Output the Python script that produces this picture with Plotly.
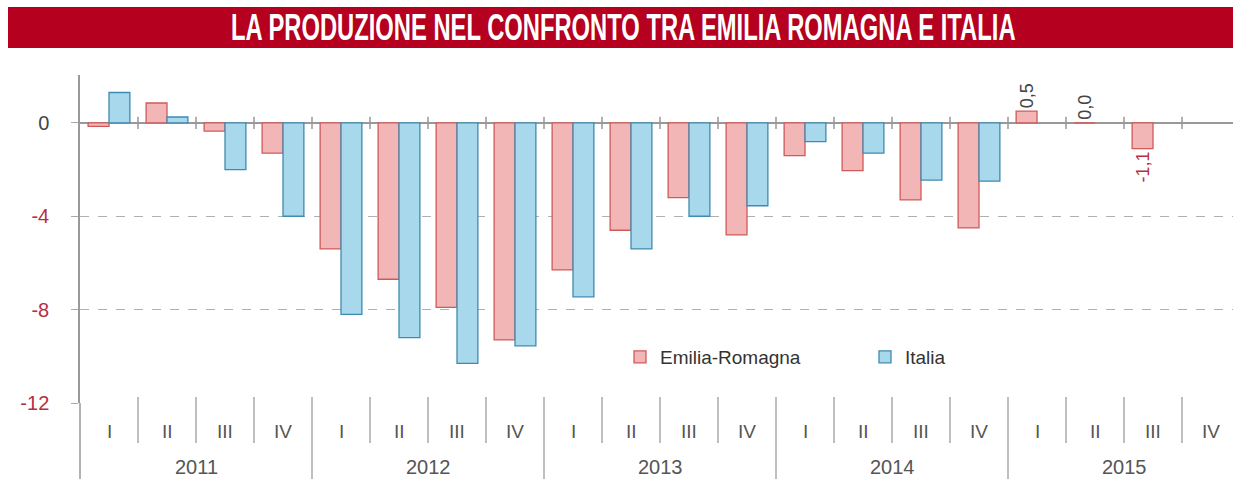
import plotly.graph_objects as go

quarters = ["I", "II", "III", "IV"] * 5
years = ["2011", "2012", "2013", "2014", "2015"]
emilia = [-0.15, 0.85, -0.35, -1.3, -5.4, -6.7, -7.9, -9.3, -6.3, -4.6, -3.2, -4.8,
          -1.4, -2.05, -3.3, -4.5, 0.5, 0.0, -1.1, None]
italia = [1.3, 0.25, -2.0, -4.0, -8.2, -9.2, -10.3, -9.55, -7.45, -5.4, -4.0, -3.55,
          -0.8, -1.3, -2.45, -2.5, None, None, None, None]
emilia_labels = [""] * 16 + ["0,5", "0,0", "-1,1", ""]
y_ticks = [0, -4, -8, -12]
y_tick_text = ["0", "-4", "-8", "-12"]

W, H = 1233, 479
L, T, B = 80, 75, 76
plot_w = W - L
plot_h = H - T - B
cat_px = 58.0

x = list(range(len(quarters)))
label_colors = ["#444444" if (v is not None and v >= 0) else "#b5303f" for v in emilia]

FONT = "Liberation Sans, Arial, sans-serif"

fig = go.Figure()
fig.add_trace(go.Bar(
    x=x, y=emilia, name="Emilia-Romagna",
    marker=dict(color="#f2b6b6", line=dict(color="#d05a5a", width=1.3)),
    text=emilia_labels, textposition="outside", textangle=-90, constraintext="none",
    textfont=dict(family=FONT, size=18, color=label_colors),
    cliponaxis=False,
))
fig.add_trace(go.Bar(
    x=x, y=italia, name="Italia",
    marker=dict(color="#a8d8ec", line=dict(color="#3f8bb0", width=1.3)),
))

shapes = []
# banner
shapes.append(dict(type="rect", xref="paper", yref="paper",
                   x0=(8 - L) / plot_w, x1=1.0,
                   y0=(H - B - 48) / plot_h, y1=(H - B - 7) / plot_h,
                   fillcolor="#b5001f", line=dict(width=0), layer="below"))
# y axis extension below plot
shapes.append(dict(type="line", xref="paper", yref="paper", x0=0, x1=0,
                   y0=(H - B - H) / plot_h, y1=0, line=dict(color="#999999", width=1.5)))
year_bounds = [3.5, 7.5, 11.5, 15.5]
for k in range(len(quarters) - 1):
    b = k + 0.5
    shapes.append(dict(type="line", xref="x", yref="y", x0=b, x1=b, y0=-0.26, y1=0.26,
                       line=dict(color="#999999", width=1.5)))
    if b in year_bounds:
        y0 = (H - B - H) / plot_h
    else:
        y0 = (403 - 443) / plot_h
    shapes.append(dict(type="line", xref="x", yref="paper", x0=b, x1=b,
                       y0=y0, y1=(403 - 397) / plot_h,
                       line=dict(color="#aaaaaa", width=1.5)))

annotations = []
annotations.append(dict(text="<b>LA PRODUZIONE NEL CONFRONTO TRA EMILIA ROMAGNA E ITALIA</b>",
                        xref="paper", yref="paper",
                        x=(623.5 - L) / plot_w, y=(H - B - 28) / plot_h,
                        showarrow=False, xanchor="center", yanchor="middle",
                        font=dict(family="Liberation Sans, Arial", size=36, color="white")))
for i, q in enumerate(quarters):
    annotations.append(dict(text=q, xref="x", yref="paper", x=i, y=(403 - 431) / plot_h,
                            showarrow=False, xanchor="center", yanchor="middle",
                            font=dict(family=FONT, size=19, color="#555555")))
for j, yr in enumerate(years):
    annotations.append(dict(text=yr, xref="x", yref="paper", x=j * 4 + 1.5,
                            y=(403 - 467) / plot_h,
                            showarrow=False, xanchor="center", yanchor="middle",
                            font=dict(family=FONT, size=20, color="#555555")))

tick_text = []
for v, t in zip(y_ticks, y_tick_text):
    c = "#444444" if v == 0 else "#b5303f"
    tick_text.append(f"<span style='color:{c}'>{t}</span>")

fig.update_layout(
    width=W, height=H,
    margin=dict(l=L, r=0, t=T, b=B, pad=0),
    paper_bgcolor="white", plot_bgcolor="white",
    barmode="group", bargap=0.28, bargroupgap=0,
    font=dict(family=FONT, size=19, color="#444444"),
    showlegend=True,
    legend=dict(orientation="h", x=(620 - L) / plot_w, xanchor="left",
                y=(403 - 357) / plot_h, yanchor="middle",
                itemwidth=30, entrywidth=200, bgcolor="rgba(0,0,0,0)",
                font=dict(family=FONT, size=19, color="#333333"), traceorder="normal"),
    xaxis=dict(range=[-0.5, -0.5 + plot_w / cat_px], showticklabels=False, showgrid=False,
               zeroline=False, showline=False, ticks=""),
    yaxis=dict(range=[-12, 2.05], tickvals=y_ticks, ticktext=tick_text,
               showgrid=True, gridcolor="#b0b0b0", griddash="dash", gridwidth=1,
               zeroline=True, zerolinecolor="#999999", zerolinewidth=1.5,
               showline=True, linecolor="#999999", linewidth=1.5,
               ticks="outside", ticklen=7, tickcolor="#aaaaaa",
               ticklabelstandoff=18,
               tickfont=dict(family=FONT, size=20, color="#b5303f")),
    shapes=shapes, annotations=annotations,
)

post = """
try { document.body.style.margin = '0'; document.body.style.padding = '0'; } catch (e) {}
try {
  var t = document.querySelector('.annotation[data-index="0"] text');
  if (t) {
    t.style.transformBox = 'fill-box';
    t.style.transformOrigin = 'center';
    t.style.transform = 'scaleX(0.66)';
  }
} catch (e) {}
"""

fig.write_html("out.html", post_script=post, config={"displayModeBar": False})
